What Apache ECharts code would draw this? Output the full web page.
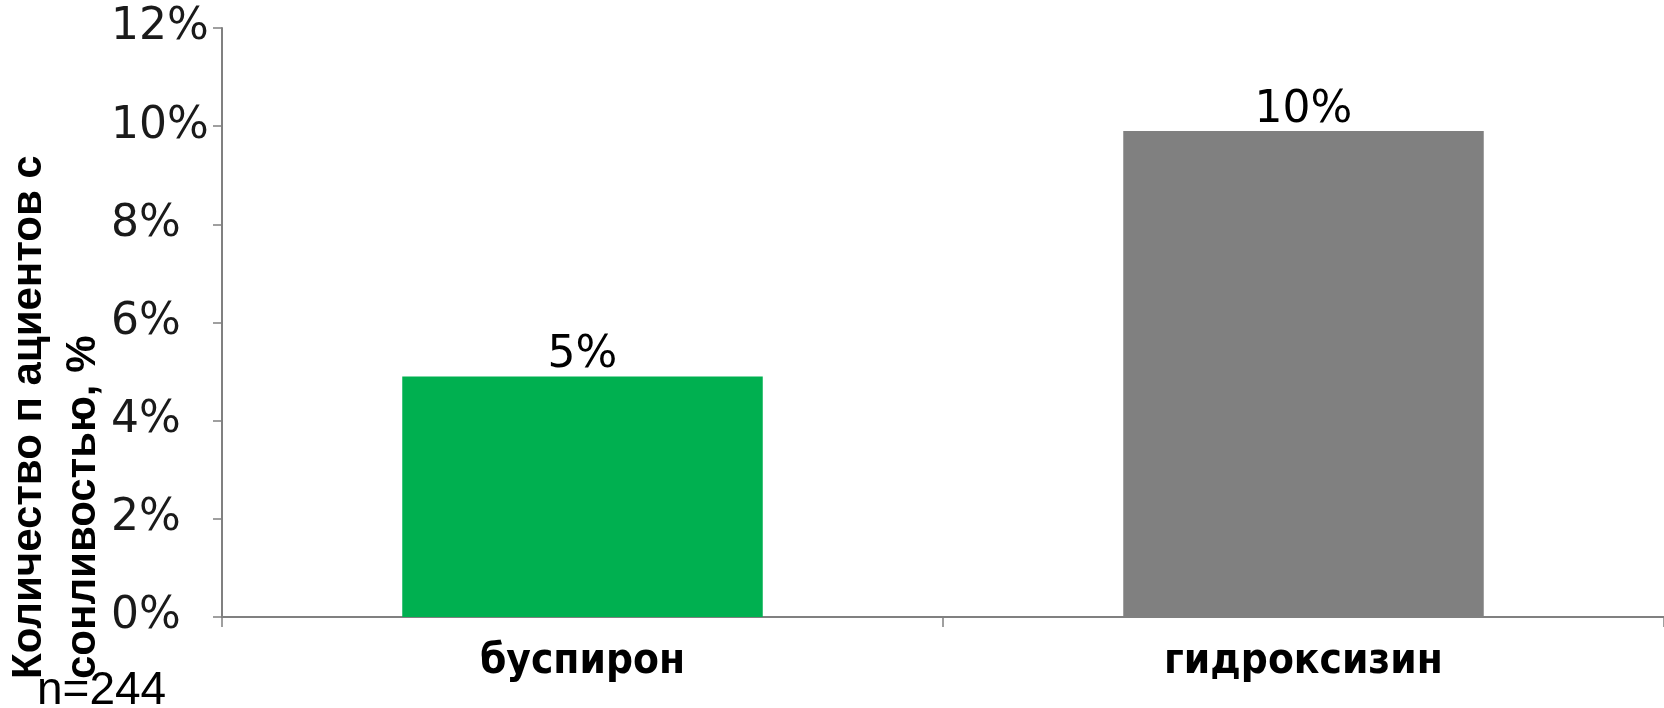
<!DOCTYPE html>
<html>
<head>
<meta charset="utf-8">
<script src="https://cdn.jsdelivr.net/npm/echarts@6/dist/echarts.min.js"></script>
<style>
html,body{margin:0;padding:0;background:#fff;}
#chart{width:1664px;height:708px;}
</style>
</head>
<body>
<div id="chart"></div>
<script>
const categories = ['буспирон', 'гидроксизин'];
const values = [4.9, 9.9];
const barColors = ['#00b050', '#808080'];
const yTicks = { min: 0, max: 12, interval: 2 };
const yTitleLines = ['Количество п ациентов с', 'сонливостью, %'];
const noteText = 'n=244';

const chart = echarts.init(document.getElementById('chart'), null, { renderer: 'canvas' });
chart.setOption({
  animation: false,
  backgroundColor: '#ffffff',
  grid: { left: 222, right: -9, top: 28, bottom: 91, containLabel: false },
  xAxis: {
    type: 'category',
    data: categories,
    axisLine: { show: true, lineStyle: { color: '#808080', width: 2 } },
    axisTick: { show: true, length: 10, alignWithLabel: false, lineStyle: { color: '#808080', width: 1.5 } },
    axisLabel: {
      margin: 24,
      color: '#000',
      fontFamily: '"DejaVu Sans Condensed", "DejaVu Sans", sans-serif',
      fontWeight: 'bold',
      fontSize: 42
    }
  },
  yAxis: {
    type: 'value',
    min: yTicks.min, max: yTicks.max, interval: yTicks.interval,
    splitLine: { show: false },
    axisLine: { show: true, lineStyle: { color: '#808080', width: 2 } },
    axisTick: { show: true, length: 9, lineStyle: { color: '#808080', width: 1.5 } },
    axisLabel: {
      formatter: '{value}%',
      align: 'left',
      margin: 111,
      color: '#1a1a1a',
      fontFamily: '"DejaVu Sans", Verdana, sans-serif',
      fontSize: 44
    }
  },
  series: [{
    type: 'bar',
    barWidth: '50%',
    data: values.map((v, i) => ({ value: v, itemStyle: { color: barColors[i] } })),
    label: {
      show: true,
      position: 'top',
      distance: -1,
      formatter: p => Math.round(p.value) + '%',
      color: '#000',
      fontFamily: '"DejaVu Sans", Verdana, sans-serif',
      fontSize: 44
    }
  }],
  graphic: [
    {
      type: 'text',
      x: 56, y: 679,
      rotation: Math.PI / 2,
      style: {
        text: yTitleLines.join('\n'),
        font: 'bold 42px "Liberation Sans", Arial, sans-serif',
        fill: '#000',
        lineHeight: 54,
        align: 'left',
        verticalAlign: 'middle'
      }
    },
    {
      type: 'text',
      x: 37, y: 668,
      style: {
        text: noteText,
        font: '46px "Liberation Sans", Arial, sans-serif',
        fill: '#000',
        align: 'left',
        verticalAlign: 'top'
      }
    }
  ]
});
</script>
</body>
</html>
